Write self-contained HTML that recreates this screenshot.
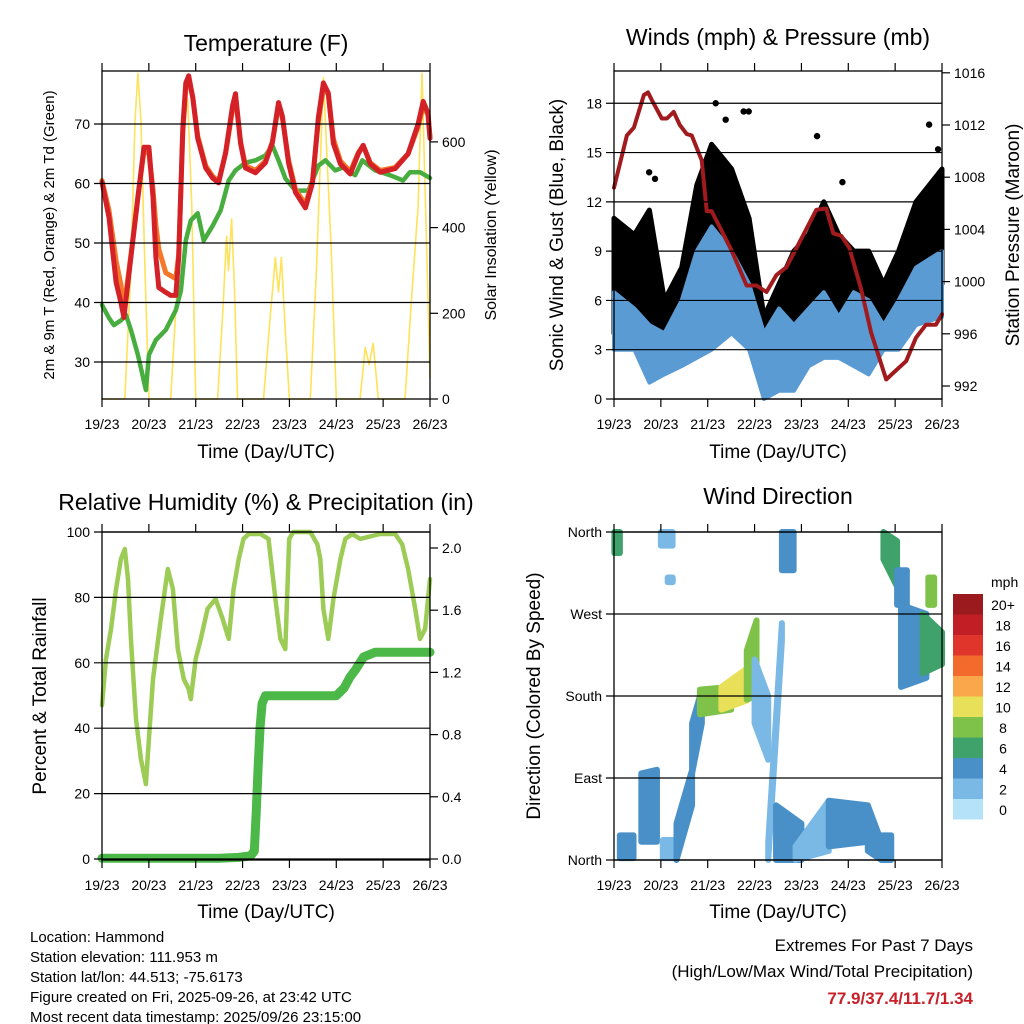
<!DOCTYPE html>
<html><head><meta charset="utf-8"><title>Station Meteogram</title>
<style>
html,body{margin:0;padding:0;background:#fff;}
svg{display:block;font-family:"Liberation Sans",sans-serif;}
.tick{font-size:14px;fill:#000;}
.ttl{font-size:23px;fill:#000;}
.axt{font-size:19px;fill:#000;}
.foot{font-size:15px;fill:#000;}
</style></head>
<body>
<svg id="chart" width="1024" height="1024" viewBox="0 0 1024 1024">
<rect x="0" y="0" width="1024" height="1024" fill="#fff"/>
<g id="layerMarks"></g>
<g id="layerAxes"></g>
<text class="ttl" x="266" y="51" text-anchor="middle">Temperature (F)</text>
<text class="ttl" x="778" y="45" text-anchor="middle">Winds (mph) &amp; Pressure (mb)</text>
<text class="ttl" x="266" y="510" text-anchor="middle">Relative Humidity (%) &amp; Precipitation (in)</text>
<text class="ttl" x="778" y="504" text-anchor="middle">Wind Direction</text>
<text class="axt" x="266" y="458" text-anchor="middle">Time (Day/UTC)</text>
<text class="axt" x="778" y="458" text-anchor="middle">Time (Day/UTC)</text>
<text class="axt" x="266" y="918" text-anchor="middle">Time (Day/UTC)</text>
<text class="axt" x="778" y="918" text-anchor="middle">Time (Day/UTC)</text>
<text x="54" y="235" font-size="15" text-anchor="middle" transform="rotate(-90 54 235)">2m &amp; 9m T (Red, Orange) &amp; 2m Td (Green)</text>
<text x="496" y="235" font-size="16" text-anchor="middle" transform="rotate(-90 496 235)">Solar Insolation (Yellow)</text>
<text class="axt" x="563" y="235" text-anchor="middle" transform="rotate(-90 563 235)">Sonic Wind &amp; Gust (Blue, Black)</text>
<text class="axt" x="1019" y="235" text-anchor="middle" transform="rotate(-90 1019 235)">Station Pressure (Maroon)</text>
<text class="axt" x="46" y="696" text-anchor="middle" transform="rotate(-90 46 696)">Percent &amp; Total Rainfall</text>
<text class="axt" x="540" y="696" text-anchor="middle" transform="rotate(-90 540 696)">Direction (Colored By Speed)</text>
<text class="tick" x="991" y="587">mph</text>
<g>
<text class="foot" x="30" y="942">Location: Hammond</text>
<text class="foot" x="30" y="962">Station elevation: 111.953 m</text>
<text class="foot" x="30" y="982">Station lat/lon: 44.513; -75.6173</text>
<text class="foot" x="30" y="1002">Figure created on Fri, 2025-09-26, at 23:42 UTC</text>
<text class="foot" x="30" y="1022">Most recent data timestamp: 2025/09/26 23:15:00</text>
</g>
<text x="973" y="951" font-size="17" text-anchor="end">Extremes For Past 7 Days</text>
<text x="973" y="977" font-size="17" text-anchor="end">(High/Low/Max Wind/Total Precipitation)</text>
<text x="973" y="1004" font-size="17" font-weight="bold" fill="#c8202a" text-anchor="end">77.9/37.4/11.7/1.34</text>
</svg>
<script>
// ---------- data ----------
const dayLabels = ["19/23","20/23","21/23","22/23","23/23","24/23","25/23","26/23"];
const tempHours = [0,3.6,7.2,9.7,11.2,14.8,18.4,21.5,24,26.1,27.6,29.1,32.7,35.2,37.8,39.3,41.4,42.9,44.4,46.5,49,53.1,56.7,59.7,63.3,66.9,68.4,71,73.5,78.6,83.7,87.3,90.4,92.4,95.5,99.1,104.2,107.8,110.8,113.4,115.9,118.5,122.1,127.2,131.3,133.8,137.4,142.5,150.2,156.8,161.9,164.5,167,168];
const temp2m = [60.2,54.3,43.4,40,37.5,47.6,57.7,66.1,66.1,57.7,47.6,42.5,41.7,41.2,41.2,47.6,69.3,76.9,78.1,74.4,67.6,62.6,60.9,60.1,65.2,73.1,75.1,66.7,62.6,61.8,63.5,66.9,73.6,71.3,63.5,58.5,55.9,60.1,71,76.9,75.2,66.7,63.3,61.6,65,66.4,63.3,61.9,62.5,65,70,73.8,71.8,67.6];
const temp9m = [60.5,55.5,47,43,39,48,57.7,65.5,65,59,53,49,45,44.5,44,48,68.5,76,77.5,74.5,68,63,61.2,60.4,65,72.5,74.5,67,63,62.2,63.8,67,73,71,64,59,56.5,60.5,70.5,76,75,67.5,63.8,62,65.2,66.4,63.5,62.2,62.7,65,69.5,73,71.5,67.8];
const dewHours = [0,3.6,6.1,9.7,12.3,14.8,18.4,22.5,24,27.6,32.7,37.8,40.4,42.9,45.5,49,52.1,56.7,60.8,64.9,68.4,73.5,78.6,83.7,87.3,90.4,94,99.1,105.7,110.8,114.4,119.5,123.6,129.7,133.3,139.9,147.5,154.2,157.7,162.9,168];
const dew2m = [39.6,37.4,36.2,37,37.9,35.4,31.2,25.3,31.2,33.7,35.4,38.7,42,50.4,53.8,55,50.4,52.9,55.5,60.5,62.2,63.5,63.9,64.7,66.4,63.9,60.8,58.8,58.8,63,63.9,62.2,62.7,61.4,63.9,62.2,61.4,60.5,61.9,61.9,60.9];
const solarHours = [0,11.7,14.8,16.9,18.4,19.9,22,24,35.2,38.3,40.3,42.4,43.9,46,48,59.2,61.8,63.8,64.8,66.4,67.9,69.4,82.7,86.3,88.8,90.4,91.9,94,96,106.7,109.8,111.8,113.4,115.4,117.4,120,132.2,134.8,136.8,138.9,141.5,155.2,158.8,161.9,163.9,166,168];
const solarVals = [0,0,300,650,760,650,300,0,0,250,450,650,700,450,0,0,200,380,300,420,250,0,0,200,330,250,330,150,0,0,300,550,750,550,350,0,0,120,80,130,0,0,250,450,760,400,50];

const pressHours = [0,6.6,10.2,15.3,17.4,19.4,24.5,27.1,30.6,33.7,37.3,39.8,44.9,47.5,50,55.1,60.2,67.9,73,78.1,83.2,88.3,96,103.6,108.7,112.3,116.4,120.5,126.6,131.7,139.4,144.5,149.6,154.7,159.8,164.9,168];
const pressVals = [1007.2,1011.2,1011.8,1014.3,1014.5,1013.9,1012.5,1012.5,1013,1012,1011.3,1011.2,1009.3,1005.4,1005.4,1003.9,1002.4,999.7,999.7,999.2,1000.5,1001.1,1003.3,1005.5,1005.6,1003.7,1003.5,1002.6,999.4,996.1,992.5,993.2,993.9,995.7,996.7,996.7,997.5];
const windBinStart = [0,6.6,14.3,22,29.6,39.8,44.9,55.1,65.4,73,80.7,88.3,96,103.6,111.3,119,126.6,134.3,141.9,149.6,159.8];
const windBinEnd = [6.6,14.3,22,29.6,39.8,44.9,55.1,65.4,73,80.7,88.3,96,103.6,111.3,119,126.6,134.3,141.9,149.6,159.8,168];
const sustLow = [3,3,1,1.5,2,2.5,3,4,3,0,0.5,0.5,2,2.5,2.5,2,1.5,3,3,4.5,5];
const sustHigh = [6.5,5.5,4.5,4,6,9,10.5,9,7,4,5.5,4.5,5.5,6.5,5,6.5,6,4.5,6,8,9];
const gustLow = [4,5,4,2,3,6,8,7,5,1,2,3,4,6,5,4,4,3,4,6,7];
const gustHigh = [11,10,11.5,6,8,13,15.5,14,11,5,7,9,10,12,10,9,9,7,9,12,14];
const gustOutHours = [18,21,52.1,57.2,66.4,69,104,117,161.4,166];
const gustOutVals = [13.8,13.4,18,17,17.5,17.5,16,13.2,16.7,15.2];

const rhHours = [0,2,4.6,7.2,9.7,11.7,13.3,14.8,17.4,19.9,22.5,24,26.1,30.1,33.7,36.3,38.8,41.9,44.4,45.5,48,50.6,54.1,58.2,61.8,64.9,67.4,70,72.5,75.1,81.2,85.3,88.8,91.4,93.9,95.9,98,106.7,110.3,111.8,113.4,115.9,118.5,122.1,124.6,128.2,132.2,142.5,150.2,153.7,156.8,160.4,162.9,165.5,168];
const rhVals = [47,61,70.3,82.6,91.7,94.8,85.6,67.3,42.8,30.6,22.9,36.7,55,73.4,88.7,82.6,64.2,55,52,48.9,61.2,67.3,76.5,79.5,73.4,67.3,82.6,91.7,97.9,99.4,99.4,97.9,79.5,67.3,64.2,97.9,100,100,96.3,91.7,76.5,67.3,79.5,91.7,97.9,99.4,97.9,99.4,99.4,96.3,88.7,76.5,67.3,70.3,85.6];
const rainHours = [0,60,70,76,78,79,80,81,82,83.7,120,124,127,130,134,140,168];
const rainVals = [0.005,0.005,0.01,0.02,0.05,0.3,0.6,0.85,1.0,1.05,1.05,1.1,1.17,1.22,1.3,1.33,1.33];

const dirStart = [0.2,24,27.5,3,14,25,32,40,44,55,68,72,79,86,83,93,110,130,137,138,145,147,158,161];
const dirEnd   = [3,30,28.5,10,22,31,40,45,60,68,73,79,86,92,96,110,130,137,142,145,150,160,168,164];
const dirLow0  = [337,345,305,2,20,2,0,95,160,165,176,150,0,318,0,0,15,10,0,330,280,190,205,280];
const dirHigh0 = [360,360,310,27,95,22,40,150,187,190,230,220,20,360,60,15,65,60,27,360,318,280,270,310];
const dirLow1  = [337,345,305,2,20,2,60,150,165,175,180,110,240,318,0,10,20,0,0,300,280,200,215,280];
const dirHigh1 = [360,360,310,27,99,22,99,187,190,210,263,180,260,360,40,65,60,20,27,350,318,270,250,310];
const dirSpeed = [6,1,1,4,4,1,3,4,8,9,7,2,1,4,4,2,4,3,4,5,4,3,6,7];
const cbLabels = ["0","2","4","6","8","10","12","14","16","18","20+"];
const cbColors = ["#b5e2f8","#7ab9e6","#4a90c8","#3fa26a","#7fc24a","#e9e05a","#f9a74a","#f26a2c","#e0352a","#c01f26","#9b1a1e"];

// ---------- scales ----------
const NS = "http://www.w3.org/2000/svg";
const marks = document.getElementById('layerMarks');
const axes = document.getElementById('layerAxes');
function el(tag, attrs, parent){ const e=document.createElementNS(NS,tag); for(const k in attrs) e.setAttribute(k,attrs[k]); (parent||marks).appendChild(e); return e; }
const LX0=102, LX1=430, RX0=614, RX1=942, TY0=71, TY1=399, BY0=532, BY1=860;
function xL(h){ return LX0 + h/168*(LX1-LX0); }
function xR(h){ return RX0 + h/168*(RX1-RX0); }
function yTemp(v){ return 124 + (70 - v)*5.95; }
function ySolar(v){ return 399 - v/200*85.7; }
function yWind(v){ return 399 - v*16.43; }
function yPress(v){ return 386 - (v-992)*13.05; }
function yRH(v){ return 859 - v*3.27; }
function yRain(v){ return 859 - v*155.5; }
function yDir(v){ return 860 - v/360*328; }
function spdColor(s){ return cbColors[Math.min(10, Math.max(0, Math.round(s/2)))]; }
function pts(hs, vs, fx, fy){ return hs.map((h,i)=>fx(h).toFixed(1)+','+fy(vs[i]).toFixed(1)).join(' '); }

// ---------- temperature panel ----------
const solar = el('polyline',{points:pts(solarHours,solarVals,xL,ySolar),fill:'none',stroke:'#fde25a','stroke-width':1.6,'stroke-linejoin':'round'});


const dew = el('polyline',{points:pts(dewHours,dew2m,xL,yTemp),fill:'none',stroke:'#47ad3f','stroke-width':4.5,'stroke-linejoin':'round','stroke-linecap':'round'});


const t9 = el('polyline',{points:pts(tempHours,temp9m,xL,yTemp),fill:'none',stroke:'#f4772a','stroke-width':5,'stroke-linejoin':'round','stroke-linecap':'round'});


const t2 = el('polyline',{points:pts(tempHours,temp2m,xL,yTemp),fill:'none',stroke:'#d42027','stroke-width':5,'stroke-linejoin':'round','stroke-linecap':'round'});



// ---------- winds panel ----------
function band(starts, ends, lo, hi){
  const top=[], bot=[];
  for(let i=0;i<starts.length;i++){
    const xm = xR(i===0 ? starts[i] : (i===starts.length-1 ? ends[i] : (starts[i]+ends[i])/2));
    top.push(xm.toFixed(1)+','+yWind(hi[i]).toFixed(1));
    bot.unshift(xm.toFixed(1)+','+yWind(lo[i]).toFixed(1));
  }
  return top.concat(bot).join(' ');
}
const gust = el('polygon',{points:band(windBinStart,windBinEnd,gustLow,gustHigh),fill:'#000',stroke:'#000','stroke-width':5,'stroke-linejoin':'round'});


gustOutHours.forEach((h,i)=>{
  const c = el('circle',{cx:xR(h),cy:yWind(gustOutVals[i]),r:3.2,fill:'#000'});
  
  
});
const sust = el('polygon',{points:band(windBinStart,windBinEnd,sustLow,sustHigh),fill:'#5a9bd4',stroke:'#5a9bd4','stroke-width':4,'stroke-linejoin':'round'});


const press = el('polyline',{points:pts(pressHours,pressVals,xR,yPress),fill:'none',stroke:'#a11a1d','stroke-width':4,'stroke-linejoin':'round','stroke-linecap':'round'});



// ---------- humidity panel ----------
const rain = el('polyline',{points:pts(rainHours,rainVals,xL,yRain),fill:'none',stroke:'#4cb848','stroke-width':9,'stroke-linejoin':'round','stroke-linecap':'round'});


const rh = el('polyline',{points:pts(rhHours,rhVals,xL,yRH),fill:'none',stroke:'#9ccc55','stroke-width':4.5,'stroke-linejoin':'round','stroke-linecap':'round'});



// ---------- wind direction panel ----------
dirStart.forEach((h,i)=>{
  const x0=xR(h), x1=Math.max(xR(dirEnd[i]), x0+5);
  const p = [x0+','+yDir(dirHigh0[i]), x1+','+yDir(dirHigh1[i]), x1+','+yDir(dirLow1[i]), x0+','+yDir(dirLow0[i])].join(' ');
  const c = spdColor(dirSpeed[i]);
  const r = el('polygon',{points:p,fill:c,stroke:c,'stroke-width':6,'stroke-linejoin':'round'});
  
  
});
cbColors.forEach((c,i)=>{
  const y = 799 - i*20.5;
  const r = el('rect',{x:953,y:y,width:30,height:20.5,fill:c},axes);
  
  
  const t = el('text',{x:1003,y:y+16,'text-anchor':'middle','class':'tick'},axes);
  t.textContent = cbLabels[i];
  
  
});

// ---------- axes ----------
function frame(x0,y0,x1,y1,xf,name){
  const b = el('rect',{x:x0,y:y0,width:x1-x0,height:y1-y0,fill:'none',stroke:'#000','stroke-width':1.3},axes);
  
  
  dayLabels.forEach((lab,i)=>{
    const x = xf(i*24);
    const tt = el('line',{x1:x,y1:y0,x2:x,y2:y0-8,stroke:'#000','stroke-width':1.2},axes);
    
    
    const tb = el('line',{x1:x,y1:y1,x2:x,y2:y1+8,stroke:'#000','stroke-width':1.2},axes);
    
    
    const t = el('text',{x:x,y:y1+30,'text-anchor':'middle','class':'tick'},axes);
    t.textContent = lab;
    
    
  });
}
function leftAxis(vals,fy,x0,x1,name,grid,labels){
  vals.forEach((v,i)=>{
    const y = fy(v);
    const g = el('line',{x1:x0-8,y1:y,x2:grid?x1:x0,y2:y,stroke:'#000','stroke-width':1.2},axes);
    
    
    const t = el('text',{x:x0-12,y:y+5,'text-anchor':'end','class':'tick'},axes);
    t.textContent = labels ? labels[i] : String(v);
    
    
  });
}
function rightAxis(vals,fy,x1,name,labels){
  vals.forEach((v,i)=>{
    const y = fy(v);
    const g = el('line',{x1:x1,y1:y,x2:x1+8,y2:y,stroke:'#000','stroke-width':1.2},axes);
    
    
    const t = el('text',{x:x1+12,y:y+5,'text-anchor':'start','class':'tick'},axes);
    t.textContent = labels ? labels[i] : String(v);
    
    
  });
}
const tempTicks=[30,40,50,60,70], solarTicks=[0,200,400,600];
const windTicks=[0,3,6,9,12,15,18], pressTicks=[992,996,1000,1004,1008,1012,1016];
const rhTicks=[0,20,40,60,80,100], rainTicks=[0,0.4,0.8,1.2,1.6,2.0];
const dirTicks=[0,90,180,270,360], dirLabels=["North","East","South","West","North"];
frame(LX0,TY0,LX1,TY1,xL,'temperature');
frame(RX0,TY0,RX1,TY1,xR,'winds');
frame(LX0,BY0,LX1,BY1,xL,'humidity');
frame(RX0,BY0,RX1,BY1,xR,'wind-direction');
leftAxis(tempTicks,yTemp,LX0,LX1,'temperature-y',true);
rightAxis(solarTicks,ySolar,LX1,'solar-y');
leftAxis(windTicks,yWind,RX0,RX1,'winds-y',true);
rightAxis(pressTicks,yPress,RX1,'pressure-y');
leftAxis(rhTicks,yRH,LX0,LX1,'humidity-y',true);
rightAxis(rainTicks,yRain,LX1,'rain-y',rainTicks.map(v=>v.toFixed(1)));
leftAxis(dirTicks,yDir,RX0,RX1,'wind-direction-y',true,dirLabels);
</script>
</body></html>
